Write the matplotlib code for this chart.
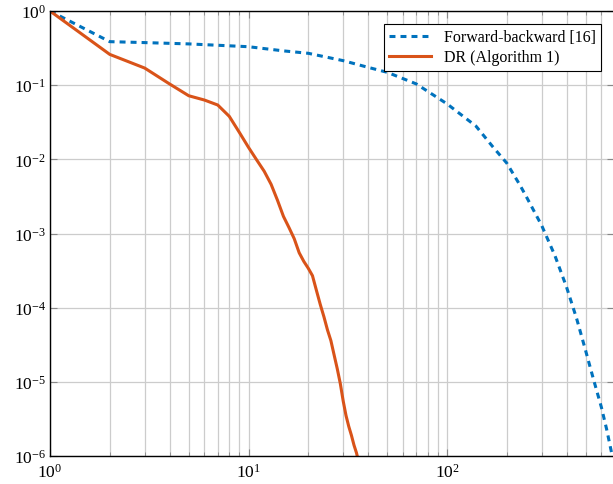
import matplotlib.pyplot as plt
import matplotlib.ticker as mticker
import numpy as np

# Forward-backward [16]
fb_iter = [1, 2, 3, 5, 10, 15, 20, 30, 40, 50, 70, 100, 140, 170, 200, 233, 250, 300, 350,
           400, 450, 500, 546, 600, 637, 680]
fb_err = [1.0, 0.386, 0.375, 0.36, 0.33, 0.29, 0.269, 0.214, 0.174, 0.149, 0.104, 0.056,
          0.028, 0.0148, 0.0089, 0.0045, 0.0032, 0.00128, 5.0e-4, 1.9e-4, 7.1e-5, 2.6e-5,
          1.1e-5, 4.5e-6, 2.3e-6, 1.0e-6]

# DR (Algorithm 1)
dr_iter = list(range(1, 37))
dr_err = [1.0, 0.26, 0.17, 0.104, 0.072, 0.063, 0.054, 0.038, 0.023, 0.0145,
          0.0098, 0.0069, 0.0046, 0.0028, 0.0017, 0.0012, 0.00085, 0.00055, 0.00042, 0.00034,
          0.00027, 0.00017, 0.00011, 7.5e-5, 5.0e-5, 3.6e-5, 2.3e-5, 1.5e-5, 9.5e-6, 5.5e-6,
          3.5e-6, 2.5e-6, 1.9e-6, 1.4e-6, 1.1e-6, 8e-7]

plt.rcParams['mathtext.fontset'] = 'cm'
plt.rcParams['font.family'] = 'Liberation Serif'

fig = plt.figure(figsize=(6.13, 4.85), dpi=100)
ax = fig.add_axes([50/613, 28/485, 564/613, 445/485])

ax.plot(fb_iter, fb_err, color='#0072BD', lw=2.2, linestyle=(0, (1.95, 1.65)),
        label='Forward-backward [16]')
ax.plot(dr_iter, dr_err, color='#D95319', lw=2.2, label='DR (Algorithm 1)',
        solid_joinstyle='round')

ax.set_xscale('log')
ax.set_yscale('log')
ax.set_xlim(1, 10**(564/198.5))
ax.set_ylim(1e-6, 1)

ax.xaxis.set_major_locator(mticker.LogLocator(base=10))
ax.xaxis.set_minor_locator(mticker.LogLocator(base=10, subs=np.arange(2, 10)))
ax.yaxis.set_major_locator(mticker.LogLocator(base=10, numticks=10))
ax.yaxis.set_minor_locator(mticker.NullLocator())
ax.xaxis.set_minor_formatter(mticker.NullFormatter())

ax.grid(True, which='major', color='#cccccc', lw=0.9)
ax.grid(True, which='minor', axis='x', color='#cccccc', lw=0.9)
ax.set_axisbelow(True)

ax.tick_params(which='both', direction='in', top=True, right=True, labelsize=12.5,
               color='#888888')
ax.tick_params(which='major', length=5)
ax.tick_params(which='minor', length=3)
ax.tick_params(axis='x', pad=5)
ax.tick_params(axis='y', pad=3)
for s in ax.spines.values():
    s.set_linewidth(1.0)

leg = ax.legend(loc='upper right', fontsize=11.5, frameon=True, fancybox=False,
                framealpha=1, edgecolor='black', borderaxespad=0.8,
                handlelength=2.6, borderpad=0.35, labelspacing=0.25)
leg.get_frame().set_linewidth(0.8)

fig.savefig('out.png', dpi=100)
